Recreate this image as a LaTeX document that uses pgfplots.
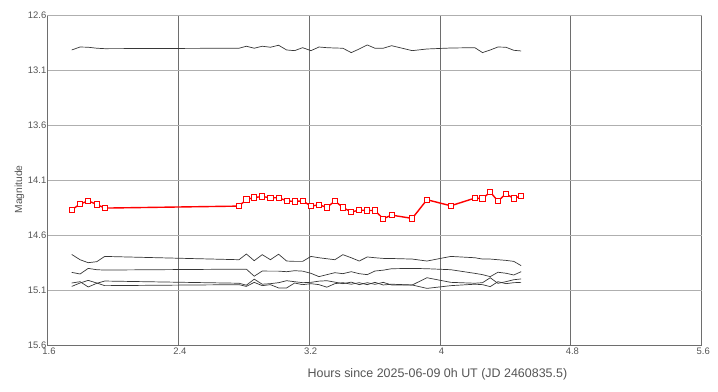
\documentclass[border=0pt]{standalone}
\usepackage{pgfplots}
\usepackage{pgfplotstable}
\pgfplotsset{compat=1.18}
\usepackage{fontspec}
\setmainfont{Liberation Sans}
\definecolor{txt}{RGB}{85,85,85}
\definecolor{vgrid}{RGB}{110,110,110}
\definecolor{hgrid}{RGB}{175,175,175}
\definecolor{cmp}{RGB}{55,55,55}
\pgfplotstableread{
x r t a b c d
1.748 14.366 12.912 14.773 14.936 15.033 15.064
1.799 14.315 12.885 14.821 14.951 15.021 15.033
1.849 14.285 12.887 14.848 14.900 15.069 15.009
1.901 14.318 12.896 14.839 14.912 15.036 15.033
1.950 14.351 12.900 14.791 14.915 15.015 15.057
2.771 14.333 12.896 14.821 14.907 15.035 15.048
2.816 14.273 12.878 14.769 14.907 15.053 15.064
2.864 14.255 12.896 14.830 14.971 14.998 15.027
2.913 14.246 12.878 14.775 14.924 15.044 15.057
2.963 14.257 12.887 14.821 14.925 15.039 15.048
3.013 14.257 12.869 14.771 14.925 15.030 15.078
3.062 14.285 12.912 14.833 14.930 15.012 15.078
3.111 14.291 12.918 14.836 14.921 15.021 15.033
3.160 14.285 12.891 14.836 14.925 15.030 15.048
3.211 14.333 12.918 14.791 14.945 15.027 15.039
3.260 14.321 12.885 14.803 14.975 15.016 15.048
3.308 14.345 12.891 14.812 14.957 15.012 15.071
3.357 14.287 12.894 14.821 14.939 15.025 15.039
3.406 14.345 12.896 14.775 14.948 15.039 15.030
3.457 14.387 12.936 14.803 14.930 15.025 15.044
3.506 14.369 12.903 14.833 14.948 15.048 15.030
3.555 14.373 12.866 14.796 14.957 15.030 15.048
3.602 14.373 12.896 14.803 14.924 15.045 15.027
3.653 14.448 12.896 14.809 14.916 15.027 15.051
3.704 14.415 12.873 14.810 14.903 15.051 15.044
3.830 14.445 12.918 14.815 14.900 15.051 15.051
3.920 14.275 12.903 14.833 14.903 14.985 15.082
4.066 14.330 12.894 14.791 14.912 15.027 15.057
4.213 14.260 12.891 14.803 14.945 15.035 15.044
4.260 14.264 12.936 14.815 14.957 15.030 15.048
4.307 14.205 12.912 14.815 14.975 14.985 15.066
4.354 14.287 12.885 14.821 14.935 15.036 15.021
4.403 14.221 12.887 14.827 14.944 15.021 15.039
4.451 14.264 12.915 14.836 14.960 15.003 15.030
4.496 14.239 12.921 14.875 14.930 14.996 15.027
}\datatable
\begin{document}
\begin{tikzpicture}
\begin{axis}[
  scale only axis,
  width=654.2bp, height=329.6bp,
  xmin=1.6, xmax=5.6, ymin=12.6, ymax=15.6,
  y dir=reverse,
  xtick={1.6,2.4,3.2,4,4.8,5.6},
  ytick={12.6,13.1,13.6,14.1,14.6,15.1,15.6},
  yticklabels={12.6,13.1,13.6,14.1,14.6,15.1,15.6},
  xticklabels={1.6,2.4,3.2,4,4.8,5.6},
  grid=major,
  x grid style={vgrid, line width=0.8bp},
  y grid style={hgrid, line width=0.8bp},
  axis line style={vgrid, line width=0.9bp},
  axis x line*=bottom, axis y line*=left,
  major tick length=0pt,
  tick label style={font=\fontsize{9.5}{11}\selectfont, text=txt},
  /pgf/number format/assume math mode=true,
  yticklabel style={inner sep=1bp, anchor=east},
  xticklabel style={inner sep=1bp, anchor=north, yshift=-1bp, xshift=1.5bp},
  xlabel={Hours since 2025-06-09 0h UT (JD 2460835.5)},
  ylabel={Magnitude},
  xlabel style={font=\fontsize{12.5}{14}\selectfont, text=txt, at={(axis description cs:0.596,-0.089)}, anchor=center},
  ylabel style={font=\fontsize{10.3}{12}\selectfont, text=txt, at={(axis description cs:-0.043,0.473)}, anchor=center, rotate=0},
  clip=false,
]
\addplot[cmp, line width=0.7bp] table[x=x, y=t] {\datatable};
\addplot[cmp, line width=0.7bp] table[x=x, y=a] {\datatable};
\addplot[cmp, line width=0.7bp] table[x=x, y=b] {\datatable};
\addplot[cmp, line width=0.7bp] table[x=x, y=c] {\datatable};
\addplot[cmp, line width=0.7bp] table[x=x, y=d] {\datatable};
\addplot[red, line width=1.4bp, mark=square*, mark size=2.6bp,
  mark options={draw=red, fill=white, line width=0.9bp}] table[x=x, y=r] {\datatable};
\end{axis}
\useasboundingbox (-47.5bp,-46.7bp) rectangle (670.5bp,345.3bp);
\end{tikzpicture}
\end{document}
